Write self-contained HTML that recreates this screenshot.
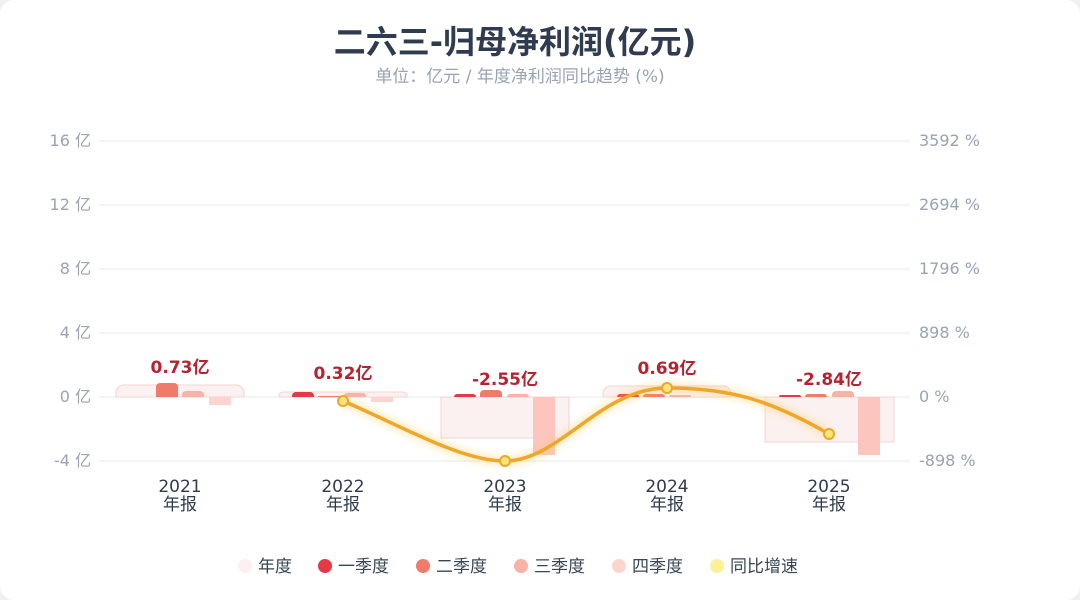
<!DOCTYPE html>
<html><head><meta charset="utf-8"><style>
body{margin:0;background:#f0f0f0;}
.c{width:1080px;height:600px;background:#fff;border-radius:14px;position:relative;overflow:hidden;}
</style></head><body><div class="c">
<svg width="1080" height="600" xmlns="http://www.w3.org/2000/svg" font-family="DejaVu Sans, Noto Sans CJK SC, sans-serif">
<defs><filter id="g" x="-20%" y="-50%" width="140%" height="200%"><feGaussianBlur stdDeviation="4"/></filter></defs>
<text x="515" y="53" text-anchor="middle" font-size="32" font-weight="bold" fill="#2f3b4f">二六三-归母净利润(亿元)</text>
<text x="520" y="82" text-anchor="middle" font-size="17" fill="#98a3b3">单位：亿元 / 年度净利润同比趋势 (%)</text>
<g stroke="#e6e8ec" stroke-width="1">
<line x1="99" x2="910" y1="141" y2="141"/><line x1="99" x2="910" y1="205" y2="205"/><line x1="99" x2="910" y1="269" y2="269"/><line x1="99" x2="910" y1="333" y2="333"/><line x1="99" x2="910" y1="397" y2="397"/><line x1="99" x2="910" y1="461" y2="461"/>
</g>
<g font-size="16" fill="#98a3b3" text-anchor="end">
<text x="91" y="146">16 亿</text><text x="91" y="210">12 亿</text><text x="91" y="274">8 亿</text><text x="91" y="338">4 亿</text><text x="91" y="402">0 亿</text><text x="91" y="466">-4 亿</text>
</g>
<g font-size="16" fill="#98a3b3">
<text x="919" y="146">3592 %</text><text x="919" y="210">2694 %</text><text x="919" y="274">1796 %</text><text x="919" y="338">898 %</text><text x="919" y="402">0 %</text><text x="919" y="466">-898 %</text>
</g>
<g fill="#fbeeee" fill-opacity="0.8" stroke="#f3d3d3" stroke-width="1">
<path d="M116 397 V393 a8 8 0 0 1 8 -8 H236 a8 8 0 0 1 8 8 V397 Z"/>
<path d="M279 397 V396 a4 4 0 0 1 4 -4 H403 a4 4 0 0 1 4 4 V397 Z"/>
<path d="M441 397 H569 V430 a8 8 0 0 1 -8 8 H441 Z"/>
<path d="M603 397 V394 a8 8 0 0 1 8 -8 H723 a8 8 0 0 1 8 8 V397 Z"/>
<path d="M765 397 H894 V442 H765 Z"/>
</g>
<g>
<path d="M156 397 V387 a4 4 0 0 1 4 -4 H174 a4 4 0 0 1 4 4 V397 Z" fill="#f07b6a"/>
<path d="M182 397 V395 a4 4 0 0 1 4 -4 H200 a4 4 0 0 1 4 4 V397 Z" fill="#f9b2a5"/>
<rect x="209" y="397" width="22" height="8" fill="#fdd5cf"/>
<path d="M292 397 V396 a4 4 0 0 1 4 -4 H310 a4 4 0 0 1 4 4 V397 Z" fill="#e63946"/>
<rect x="318" y="396" width="22" height="1" fill="#f07b6a"/>
<path d="M344 397 V396 a3 3 0 0 1 3 -3 H363 a3 3 0 0 1 3 3 V397 Z" fill="#f9b2a5"/>
<rect x="371" y="397" width="22" height="5" fill="#fdd5cf"/>
<path d="M454 397 a3 3 0 0 1 3 -3 H473 a3 3 0 0 1 3 3 Z" fill="#e63946"/>
<path d="M480 397 V394 a4 4 0 0 1 4 -4 H498 a4 4 0 0 1 4 4 V397 Z" fill="#f07b6a"/>
<path d="M507 397 a3 3 0 0 1 3 -3 H526 a3 3 0 0 1 3 3 Z" fill="#f9b2a5"/>
<rect x="533" y="397" width="22" height="58" fill="#fcc6bf"/>
<path d="M617 397 a3 3 0 0 1 3 -3 H636 a3 3 0 0 1 3 3 Z" fill="#e63946"/>
<path d="M643 397 a3 3 0 0 1 3 -3 H662 a3 3 0 0 1 3 3 Z" fill="#f07b6a"/>
<path d="M669 397 a2 2 0 0 1 2 -2 H689 a2 2 0 0 1 2 2 Z" fill="#f9b2a5"/>
<path d="M779 397 a2 2 0 0 1 2 -2 H799 a2 2 0 0 1 2 2 Z" fill="#e63946"/>
<path d="M805 397 a3 3 0 0 1 3 -3 H824 a3 3 0 0 1 3 3 Z" fill="#f07b6a"/>
<path d="M832 397 V395 a4 4 0 0 1 4 -4 H850 a4 4 0 0 1 4 4 V397 Z" fill="#f9b2a5"/>
<rect x="858" y="397" width="22" height="58" fill="#fcc6bf"/>
</g>
<g font-size="17" font-weight="bold" fill="#b52330" text-anchor="middle">
<text x="180" y="373">0.73亿</text><text x="343" y="379">0.32亿</text><text x="505" y="385">-2.55亿</text><text x="667" y="374">0.69亿</text><text x="829" y="385">-2.84亿</text>
</g>
<path d="M343 401 C400 425 460 461 505 461 C560 461 600 388 667 388 C730 388 770 400 829 434" fill="none" stroke="#f5c94a" stroke-width="8" opacity="0.4" filter="url(#g)"/>
<path d="M343 401 C400 425 460 461 505 461 C560 461 600 388 667 388 C730 388 770 400 829 434" fill="none" stroke="#f0a62a" stroke-width="3.5"/>
<g fill="#fbe27a" stroke="#e8a92a" stroke-width="2">
<circle cx="343" cy="401" r="5"/><circle cx="505" cy="461" r="5"/><circle cx="667" cy="388" r="5"/><circle cx="829" cy="434" r="5"/>
</g>
<g font-size="17" fill="#2f3b4f" text-anchor="middle">
<text x="180" y="492">2021</text><text x="180" y="510">年报</text>
<text x="343" y="492">2022</text><text x="343" y="510">年报</text>
<text x="505" y="492">2023</text><text x="505" y="510">年报</text>
<text x="667" y="492">2024</text><text x="667" y="510">年报</text>
<text x="829" y="492">2025</text><text x="829" y="510">年报</text>
</g>
<g font-size="17" fill="#3a4556">
<circle cx="245" cy="566" r="7" fill="#fbf0f0"/><text x="258" y="572">年度</text>
<circle cx="325" cy="566" r="7" fill="#e63946"/><text x="338" y="572">一季度</text>
<circle cx="423" cy="566" r="7" fill="#f07b6a"/><text x="436" y="572">二季度</text>
<circle cx="521" cy="566" r="7" fill="#f9b2a5"/><text x="534" y="572">三季度</text>
<circle cx="619" cy="566" r="7" fill="#fdd5cf"/><text x="632" y="572">四季度</text>
<circle cx="717" cy="566" r="7" fill="#fbf196"/><text x="730" y="572">同比增速</text>
</g>
</svg>
</div></body></html>
